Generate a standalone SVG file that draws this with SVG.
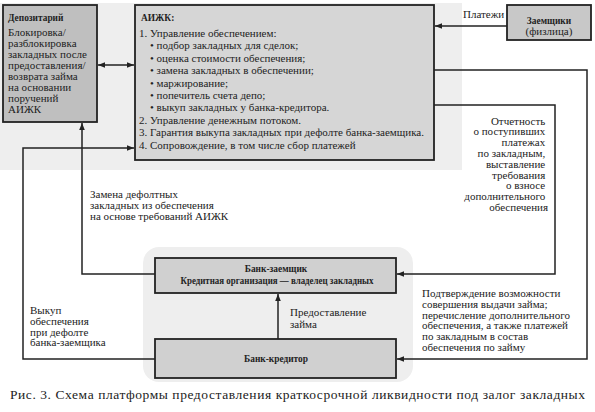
<svg xmlns="http://www.w3.org/2000/svg" width="595" height="412" viewBox="0 0 595 412" font-family="'Liberation Serif', 'DejaVu Serif', serif">
<style>
  text { font-family: 'Liberation Serif', 'DejaVu Serif', serif; fill: #222; }
  .t { font-size: 11px; }
  .b { font-size: 9.4px; font-weight: bold; }
  .box { stroke: #222; stroke-width: 1.8; }
  .ln { fill: none; stroke: #222; stroke-width: 1.5; }
  .cap { font-size: 13.5px; }
</style>
<defs>
  <marker id="ah" viewBox="0 0 10 10" refX="10" refY="5" markerWidth="7" markerHeight="7" orient="auto" markerUnits="userSpaceOnUse">
    <path d="M0,1 L10,5 L0,9 z" fill="#222"/>
  </marker>
  <marker id="ahs" viewBox="0 0 10 10" refX="0" refY="5" markerWidth="7" markerHeight="7" orient="auto" markerUnits="userSpaceOnUse">
    <path d="M10,1 L0,5 L10,9 z" fill="#222"/>
  </marker>
</defs>
<rect width="595" height="412" fill="#ffffff"/>
<rect x="0" y="3" width="462" height="167" fill="#eeeeee"/>
<rect x="143" y="247" width="270" height="135" rx="16" fill="#eeeeee"/>

<g id="connectors">
  <line class="ln" x1="98" y1="65" x2="134" y2="65" marker-start="url(#ahs)" marker-end="url(#ah)"/>
  <line class="ln" x1="507" y1="26" x2="435" y2="26" marker-end="url(#ah)"/>
  <polyline class="ln" points="434,70 587,70 587,359 397,359" marker-end="url(#ah)"/>
  <polyline class="ln" points="434,105 555,105 555,274 397,274" marker-end="url(#ah)"/>
  <polyline class="ln" points="155,359 23,359 23,148 134,148" marker-end="url(#ah)"/>
  <polyline class="ln" points="155,274 82,274 82,123" marker-end="url(#ah)"/>
  <line class="ln" x1="278" y1="339" x2="278" y2="294" marker-end="url(#ah)"/>
  <text class="t" x="463" y="18">Платежи</text>
  <text class="t" text-anchor="end">
    <tspan x="548" y="124.5">Отчетность</tspan>
    <tspan x="548" y="135.3">о поступивших</tspan>
    <tspan x="548" y="146.1">платежах</tspan>
    <tspan x="548" y="156.9">по закладным,</tspan>
    <tspan x="548" y="167.7">выставление</tspan>
    <tspan x="548" y="178.5">требования</tspan>
    <tspan x="548" y="189.3">о взносе</tspan>
    <tspan x="548" y="200.1">дополнительного</tspan>
    <tspan x="548" y="210.9">обеспечения</tspan>
  </text>
  <text class="t">
    <tspan x="90" y="198">Замена дефолтных</tspan>
    <tspan x="90" y="209">закладных из обеспечения</tspan>
    <tspan x="90" y="220">на основе требований АИЖК</tspan>
  </text>
  <text class="t">
    <tspan x="30" y="314">Выкуп</tspan>
    <tspan x="30" y="325">обеспечения</tspan>
    <tspan x="30" y="335.5">при дефолте</tspan>
    <tspan x="30" y="346">банка-заемщика</tspan>
  </text>
  <text class="t">
    <tspan x="290" y="316">Предоставление</tspan>
    <tspan x="290" y="328">займа</tspan>
  </text>
  <text class="t">
    <tspan x="422" y="297">Подтверждение возможности</tspan>
    <tspan x="422" y="307.8">совершения выдачи займа;</tspan>
    <tspan x="422" y="318.6">перечисление дополнительного</tspan>
    <tspan x="422" y="329.4">обеспечения, а также платежей</tspan>
    <tspan x="422" y="340.2">по закладным в состав</tspan>
    <tspan x="422" y="351">обеспечения по займу</tspan>
  </text>
</g>

<g id="depositary">
  <rect class="box" x="3" y="5" width="94" height="117" fill="#bfbfbf"/>
  <text class="b" x="8" y="21">Депозитарий</text>
  <text class="t">
    <tspan x="8" y="36">Блокировка/</tspan>
    <tspan x="8" y="47">разблокировка</tspan>
    <tspan x="8" y="58">закладных после</tspan>
    <tspan x="8" y="69">предоставления/</tspan>
    <tspan x="8" y="80">возврата займа</tspan>
    <tspan x="8" y="91"> на основании</tspan>
    <tspan x="8" y="102">поручений</tspan>
    <tspan x="8" y="113">АИЖК</tspan>
  </text>
</g>

<g id="aizhk">
  <rect class="box" x="135" y="5" width="299" height="155" fill="#d6d6d6"/>
  <text class="b" x="141" y="21">АИЖК:</text>
  <text class="t">
    <tspan x="139" y="37">1. Управление обеспечением:</tspan>
    <tspan x="150" y="49.4">• подбор закладных для сделок;</tspan>
    <tspan x="150" y="61.8">• оценка стоимости обеспечения;</tspan>
    <tspan x="150" y="74.2">• замена закладных в обеспечении;</tspan>
    <tspan x="150" y="86.6">• маржирование;</tspan>
    <tspan x="150" y="99">• попечитель счета депо;</tspan>
    <tspan x="150" y="111.4">• выкуп закладных у банка-кредитора.</tspan>
    <tspan x="139" y="123.8">2. Управление денежным потоком.</tspan>
    <tspan x="139" y="136.2">3. Гарантия выкупа закладных при дефолте банка-заемщика.</tspan>
    <tspan x="139" y="148.6">4. Сопровождение, в том числе сбор платежей</tspan>
  </text>
</g>

<g id="borrowers">
  <rect class="box" x="507" y="5" width="84" height="35" fill="#c8c8c8"/>
  <text class="b" x="549" y="24" text-anchor="middle">Заемщики</text>
  <text class="t" x="549" y="35" text-anchor="middle">(физлица)</text>
</g>

<g id="bank-borrower">
  <rect class="box" x="155" y="258" width="241" height="35" fill="#d0d0d0"/>
  <text class="b" x="276" y="272" text-anchor="middle">Банк-заемщик</text>
  <text class="b" x="277" y="284" text-anchor="middle" textLength="193" lengthAdjust="spacingAndGlyphs">Кредитная организация — владелец закладных</text>
</g>

<g id="bank-lender">
  <rect class="box" x="155" y="339" width="241" height="39" fill="#d0d0d0"/>
  <text class="b" x="276" y="362" text-anchor="middle">Банк-кредитор</text>
</g>

<text class="cap" x="10" y="399" textLength="575">Рис. 3. Схема платформы предоставления краткосрочной ликвидности под залог закладных</text>
</svg>
